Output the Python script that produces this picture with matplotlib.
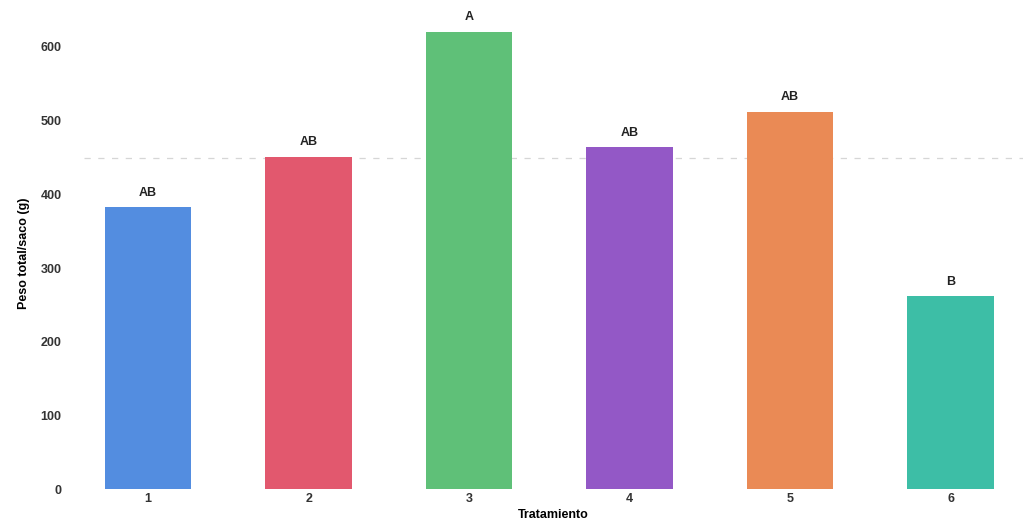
import numpy as np
import matplotlib.pyplot as plt

plt.rcParams['font.family'] = ['Liberation Sans', 'DejaVu Sans']

tratamientos = ['1', '2', '3', '4', '5', '6']
peso = [383, 451, 621, 464, 512, 262]
letras = ['AB', 'AB', 'A', 'AB', 'AB', 'B']
colores = ['#538de0', '#e2586e', '#5fc078', '#9358c6', '#ea8a55', '#3dbea6']

fig = plt.figure(figsize=(10.29, 5.26), dpi=100)
ax = fig.add_axes([0.0816, 0.0703, 0.9124, 0.8964])

x = np.arange(1, len(tratamientos) + 1)
ax.bar(x, peso, width=0.54, color=colores, zorder=2)

# media general
media = np.mean(peso)
ax.axhline(media, color='#d6d6d6', lw=0.9, ls=(0, (5, 6)), zorder=1)

for xi, v, l in zip(x, peso, letras):
    ax.annotate(l, (xi, v), xytext=(0, 6), textcoords='offset points',
                ha='center', va='bottom', fontsize=9, fontweight='bold',
                color='#222222')

ax.set_xlim(0.6, 6.45)
ax.set_ylim(0, 640)
ax.set_xticks(x)
ax.set_xticklabels(tratamientos)
ax.set_yticks(range(0, 700, 100))
ax.tick_params(length=0, labelsize=9, colors='#333333')
ax.tick_params(axis='x', pad=3)
ax.tick_params(axis='y', pad=16)
for t in ax.get_xticklabels() + ax.get_yticklabels():
    t.set_fontweight('bold')
for s in ax.spines.values():
    s.set_visible(False)

ax.set_xlabel('Tratamiento', fontsize=9, fontweight='bold', labelpad=3)
ax.set_ylabel('Peso total/saco (g)', fontsize=9, fontweight='bold', labelpad=8)

fig.savefig('out.png', dpi=100)
